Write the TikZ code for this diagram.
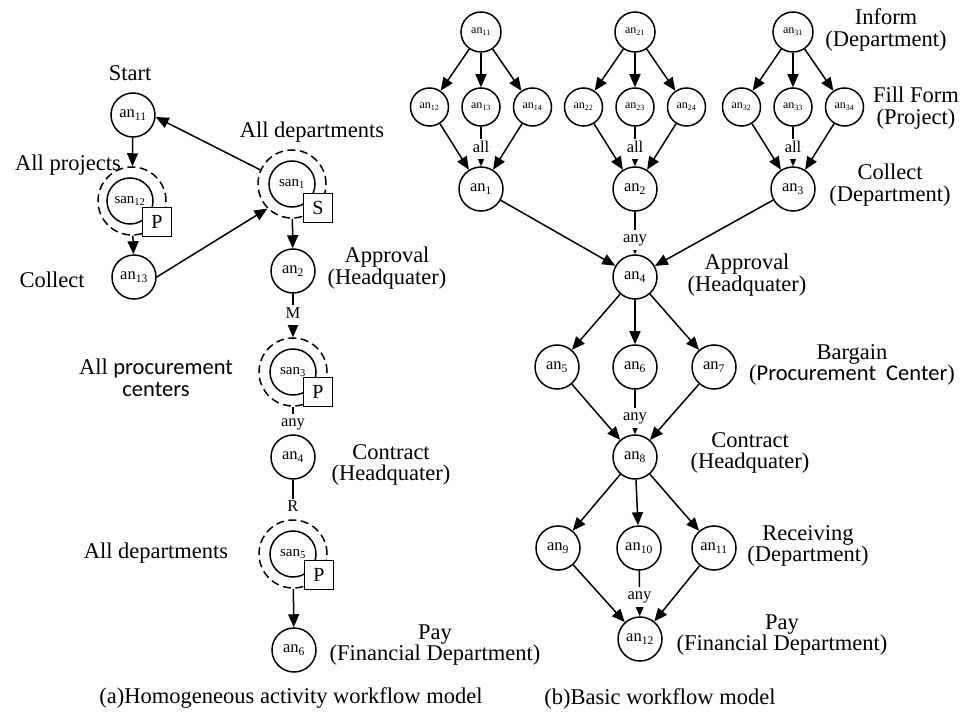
\documentclass[tikz,border=0pt]{standalone}
\usepackage{fontspec}
\setmainfont{Liberation Serif}
\newfontfamily\calfont{Carlito}
\usetikzlibrary{positioning,arrows.meta}

\newcommand{\an}[1]{an\textsubscript{#1}}
\newcommand{\san}[1]{san\textsubscript{#1}}

\begin{document}
\begin{tikzpicture}
  [x=1pt,y=-1pt,line width=1.5pt,
   >={Triangle[length=13pt,width=11pt]},
   actN/.style={circle,draw,minimum size=44pt,inner sep=0pt,font=\fontsize{16.5}{17}\selectfont},
   topN/.style={circle,draw,minimum size=40pt,inner sep=0pt,font=\fontsize{12}{12}\selectfont},
   smallN/.style={circle,draw,minimum size=38pt,inner sep=0pt,font=\fontsize{12}{12}\selectfont},
   subN/.style={circle,draw,minimum size=46pt,inner sep=0pt,font=\fontsize{15}{15}\selectfont},
   groupN/.style={circle,draw,dash pattern=on 8pt off 4.5pt,minimum size=68pt,inner sep=0pt},
   markN/.style={draw,fill=white,minimum size=29pt,inner sep=0pt,font=\fontsize{20}{20}\selectfont},
   lblN/.style={fill=white,inner sep=1pt,text height=12pt,text depth=6pt,font=\fontsize{16.5}{17}\selectfont},
   txtN/.style={align=center,font=\fontsize{22.5}{21.5}\selectfont},
   node distance=12pt]

  \useasboundingbox (0,0) rectangle (962,714);

  % (a) homogeneous activity model
  \node[actN]   (a11)  at (133,115) {\an{11}};
  \node[groupN] (s12o) at (132,201) {};
  \node[subN]   (s12)  at (130,201) {\san{12}};
  \node[markN]  (s12p) at (157,222) {P};
  \node[actN]   (a13)  at (134,277) {\an{13}};

  \node[groupN] (s1o)  at (292,184) {};
  \node[subN]   (s1)   at (292,184) {\san{1}};
  \node[markN]  (s1p)  at (318,208) {S};
  \node[actN]   (a2)   at (293,271) {\an{2}};
  \node[groupN] (s3o)  at (293,372) {};
  \node[subN]   (s3)   at (293,372) {\san{3}};
  \node[markN]  (s3p)  at (318,392) {P};
  \node[actN]   (a4)   at (293,457) {\an{4}};
  \node[groupN] (s5o)  at (293,554) {};
  \node[subN]   (s5)   at (293,554) {\san{5}};
  \node[markN]  (s5p)  at (319,575) {P};
  \node[actN]   (a6)   at (294,650) {\an{6}};

  \draw[->] (a11) -- (s12o);
  \draw[->] (s12o) -- (a13);
  \draw[->] (a13.east) -- (s1o.225);
  \draw[->] (s1o.156) -- (a11.-5);
  \draw[->] (s1o) -- (a2);
  \draw[->] (a2) -- node[lblN,pos=0.5] (lM) {M} (s3o);
  \draw[->] (s3o) -- node[lblN,pos=0.62] (lany1) {any} (a4);
  \draw[->] (a4) -- node[lblN,pos=0.74] (lR) {R} (s5o);
  \draw[->] (s5o) -- (a6);

  \node[txtN] (tStart) at (130,73)  {Start};
  \node[txtN] (tAllP)  at (68,165)  {All projects};
  \node[txtN] (tColl1) at (52,280)  {Collect};
  \node[txtN] (tAllD1) at (312,132) {All departments};
  \node[txtN] (tAppr1) at (387,268) {Approval\\(Headquater)};
  \node[txtN] (tProc)  at (156,378) {All {\calfont procurement}\\{\calfont centers}};
  \node[txtN] (tCont1) at (391,465) {Contract\\(Headquater)};
  \node[txtN] (tAllD2) at (156,553) {All departments};
  \node[txtN] (tPay1)  at (435,645) {Pay\\(Financial Department)};

  % (b) basic model
  \node[topN]   (b11) at (481,32)  {\an{11}};
  \node[smallN] (b13) at (481,107) {\an{13}};
  \node[smallN] (b12) [left=of b13]  {\an{12}};
  \node[smallN] (b14) [right=of b13] {\an{14}};
  \node[actN]   (b1)  at (481,189) {\an{1}};

  \node[topN]   (b21) at (635,32)  {\an{21}};
  \node[smallN] (b23) at (635,107) {\an{23}};
  \node[smallN] (b22) [left=of b23]  {\an{22}};
  \node[smallN] (b24) [right=of b23] {\an{24}};
  \node[actN]   (b2)  at (635,189) {\an{2}};

  \node[topN]   (b31) at (793,32)  {\an{31}};
  \node[smallN] (b33) at (793,107) {\an{33}};
  \node[smallN] (b32) [left=of b33]  {\an{32}};
  \node[smallN] (b34) [right=of b33] {\an{34}};
  \node[actN]   (b3)  at (793,189) {\an{3}};

  \node[actN] (b4)  at (635,277) {\an{4}};
  \node[actN] (b5)  at (557,367) {\an{5}};
  \node[actN] (b6)  at (635,367) {\an{6}};
  \node[actN] (b7)  at (714,367) {\an{7}};
  \node[actN] (b8)  at (635,457) {\an{8}};
  \node[actN] (b9)  at (558,548) {\an{9}};
  \node[actN] (b10) at (639,548) {\an{10}};
  \node[actN] (b11x) at (714,548) {\an{11}};
  \node[actN] (b12x) at (640,639) {\an{12}};

  \draw[->] (b11) -- (b12);
  \draw[->] (b11) -- (b13);
  \draw[->] (b11) -- (b14);
  \draw[->] (b12) -- (b1);
  \draw[->] (b14) -- (b1);
  \draw[->] (b13) -- node[lblN,pos=0.57] (lall1) {all} (b1);

  \draw[->] (b21) -- (b22);
  \draw[->] (b21) -- (b23);
  \draw[->] (b21) -- (b24);
  \draw[->] (b22) -- (b2);
  \draw[->] (b24) -- (b2);
  \draw[->] (b23) -- node[lblN,pos=0.57] (lall2) {all} (b2);

  \draw[->] (b31) -- (b32);
  \draw[->] (b31) -- (b33);
  \draw[->] (b31) -- (b34);
  \draw[->] (b32) -- (b3);
  \draw[->] (b34) -- (b3);
  \draw[->] (b33) -- node[lblN,pos=0.57] (lall3) {all} (b3);

  \draw[->] (b1) -- (b4);
  \draw[->] (b3) -- (b4);
  \draw[->] (b2) -- node[lblN,pos=0.66] (lany2) {any} (b4);
  \draw[->] (b4) -- (b5);
  \draw[->] (b4) -- (b6);
  \draw[->] (b4) -- (b7);
  \draw[->] (b5) -- (b8);
  \draw[->] (b7) -- (b8);
  \draw[->] (b6) -- node[lblN,pos=0.63] (lany3) {any} (b8);
  \draw[->] (b8) -- (b9);
  \draw[->] (b8) -- (b10);
  \draw[->] (b8) -- (b11x);
  \draw[->] (b9) -- (b12x);
  \draw[->] (b11x) -- (b12x);
  \draw[->] (b10) -- node[lblN,pos=0.57] (lany4) {any} (b12x);

  \node[txtN] (tInf)   at (886,30)  {Inform\\(Department)};
  \node[txtN] (tFill)  at (916,108) {Fill Form\\(Project)};
  \node[txtN] (tColl2) at (890,185) {Collect\\(Department)};
  \node[txtN] (tAppr2) at (747,275) {Approval\\(Headquater)};
  \node[txtN] (tBarg)  at (852,365) {Bargain\\({\calfont Procurement~~Center})};
  \node[txtN] (tCont2) at (750,453) {Contract\\(Headquater)};
  \node[txtN] (tRecv)  at (808,546) {Receiving\\(Department)};
  \node[txtN] (tPay2)  at (782,635) {Pay\\(Financial Department)};

  \node[txtN] (capA) at (291,698) {(a)Homogeneous activity workflow model};
  \node[txtN] (capB) at (660,699) {(b)Basic workflow model};

\end{tikzpicture}
\end{document}
